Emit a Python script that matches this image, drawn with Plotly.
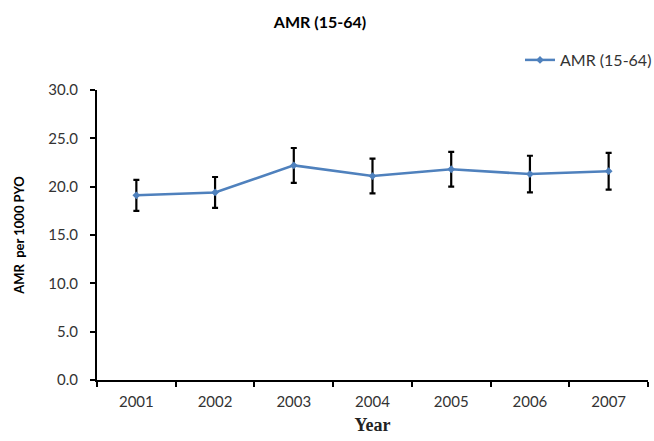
import plotly.graph_objects as go

# Age-standardised mortality, ages 15-64, per 1000 person-years
years = ["2001", "2002", "2003", "2004", "2005", "2006", "2007"]
amr = [19.1, 19.4, 22.2, 21.1, 21.8, 21.3, 21.6]
err = [1.6, 1.6, 1.8, 1.8, 1.8, 1.9, 1.9]
y_ticks = [0, 5, 10, 15, 20, 25, 30]

font_main = "Lato, 'Open Sans', sans-serif"

W, H = 654, 441
L, R, T, B = 97, 6, 90, 61
plot_w = W - L - R
plot_h = H - T - B

fig = go.Figure()
fig.add_trace(go.Scatter(
    x=years, y=amr,
    mode="lines+markers",
    name="AMR (15-64)",
    line=dict(color="#4F81BD", width=2.5),
    marker=dict(symbol="diamond", size=6, color="#4F81BD"),
    error_y=dict(type="data", array=err, visible=True,
                 color="black", thickness=2.2, width=3),
))

fig.update_layout(
    width=W, height=H,
    paper_bgcolor="white", plot_bgcolor="white",
    margin=dict(l=L, r=R, t=T, b=B, autoexpand=False),
    font=dict(family=font_main, size=15, color="#333333"),
    title=dict(text="<b>AMR (15-64)</b>", x=320 / W, xanchor="center",
               y=1 - 22 / H, yanchor="middle",
               font=dict(family=font_main, size=16, color="black")),
    showlegend=True,
    legend=dict(x=(520 - L) / plot_w, xanchor="left",
                y=(H - B - 60) / plot_h, yanchor="middle",
                bgcolor="rgba(0,0,0,0)", font=dict(size=16, color="#333333"),
                itemwidth=30),
)

fig.update_xaxes(
    type="category", range=[-0.5, 6.5],
    showline=True, linecolor="black", linewidth=2,
    ticks="outside", tickson="boundaries", ticklen=5, tickwidth=2,
    tickcolor="black", showgrid=False, zeroline=False,
    ticklabelstandoff=7,
    tickfont=dict(size=15, color="#333333"),
    title=dict(text="<b>Year</b>", standoff=9,
               font=dict(family="'Liberation Serif', 'DejaVu Serif', serif",
                         size=18, color="#222222")),
)

fig.update_yaxes(
    range=[0, 30], tickvals=y_ticks,
    ticktext=[f"{v:.1f}" for v in y_ticks],
    showline=True, linecolor="black", linewidth=2,
    ticks="outside", ticklen=5, tickwidth=2, tickcolor="black",
    showgrid=False, zeroline=False,
    ticklabelstandoff=9,
    tickfont=dict(size=15, color="#333333"),
    title=dict(text="<b>AMR  per 1000 PYO</b>", standoff=21,
               font=dict(family=font_main, size=13, color="black")),
)

fig.write_html("out.html")
